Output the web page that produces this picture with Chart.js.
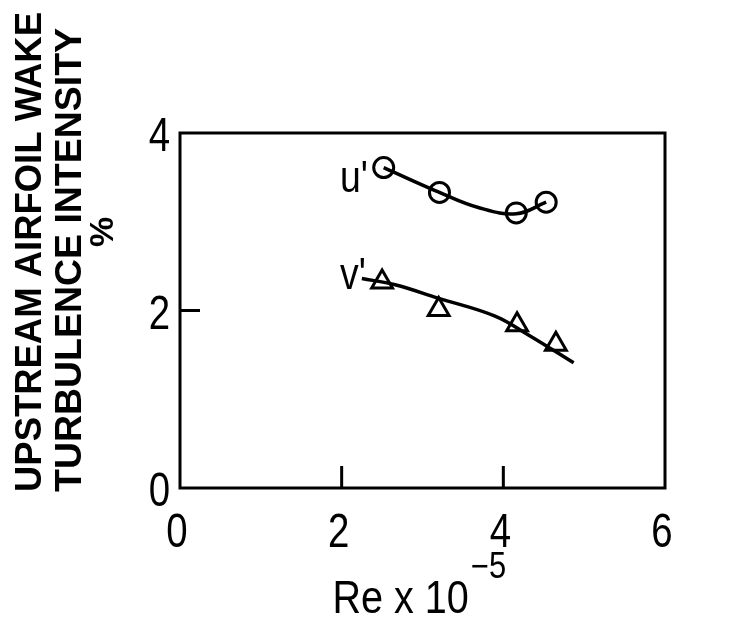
<!DOCTYPE html>
<html>
<head>
<meta charset="utf-8">
<script src="https://cdn.jsdelivr.net/npm/chart.js@4.4.1/dist/chart.umd.min.js"></script>
<style>
  html, body { margin: 0; padding: 0; background: #fff; }
  #wrap { width: 742px; height: 623px; }
</style>
</head>
<body>
<div id="wrap"><canvas id="chart" width="742" height="623"></canvas></div>
<script>
// measured points (Re x 10^-5 vs turbulence intensity %)
var uRe = [2.52, 3.21, 4.16, 4.53];
var uPct = [3.61, 3.33, 3.10, 3.22];
var vRe = [2.50, 3.20, 4.17, 4.65];
var vPct = [2.32, 2.01, 1.84, 1.62];

// faired curves through the points
var uFitRe = [2.52, 3.21, 3.69, 4.16, 4.53];
var uFitPct = [3.61, 3.33, 3.16, 3.09, 3.22];
var vFitRe = [2.25, 2.66, 3.19, 3.89, 4.30, 4.87];
var vFitPct = [2.36, 2.29, 2.14, 1.94, 1.73, 1.41];

var xTicks = [0, 2, 4, 6];
var yTicks = [0, 2, 4];
var yTitle = ['UPSTREAM AIRFOIL WAKE', 'TURBULENCE INTENSITY', '%'];
var xTitle = 'Re x 10';
var xTitleExp = '\u22125';
var seriesNames = ["u'", "v'"];

var numFont = "'Liberation Sans', Arial, sans-serif";

function pts(xs, ys) {
    return xs.map(function (x, i) { return {x: x, y: ys[i]}; });
}

// squeezed text, the scan uses a narrow face
function narrowText(ctx, txt, x, y, sx, align) {
    var w = ctx.measureText(txt).width * sx;
    var left = align === 'right' ? x - w : align === 'center' ? x - w / 2 : x;
    ctx.save();
    ctx.translate(left, y);
    ctx.scale(sx, 1);
    ctx.textAlign = 'left';
    ctx.fillText(txt, 0, 0);
    ctx.restore();
    return w;
}

// box, inward ticks, tick labels, curve labels and axis titles
var decor = {
    id: 'decor',
    afterDraw: function (chart) {
        var ctx = chart.ctx, a = chart.chartArea;
        var xs = chart.scales.x, ys = chart.scales.y;
        ctx.save();
        ctx.strokeStyle = '#000';
        ctx.fillStyle = '#000';
        ctx.lineWidth = 3;
        ctx.strokeRect(a.left, a.top, a.right - a.left, a.bottom - a.top);

        ctx.beginPath();
        xTicks.forEach(function (v) {
            if (v > xs.min && v < xs.max) {
                var px = xs.getPixelForValue(v);
                ctx.moveTo(px, a.bottom);
                ctx.lineTo(px, a.bottom - 22);
            }
        });
        yTicks.forEach(function (v) {
            if (v > ys.min && v < ys.max) {
                var py = ys.getPixelForValue(v);
                ctx.moveTo(a.left, py);
                ctx.lineTo(a.left + 20, py);
            }
        });
        ctx.stroke();

        ctx.textBaseline = 'alphabetic';
        ctx.font = '48px ' + numFont;
        xTicks.forEach(function (v) {
            narrowText(ctx, String(v), xs.getPixelForValue(v) - 3, a.bottom + 59, 0.8, 'center');
        });
        yTicks.forEach(function (v) {
            narrowText(ctx, String(v), a.left - 10, ys.getPixelForValue(v) + 18, 0.8, 'right');
        });

        // curve labels
        ctx.font = '44px ' + numFont;
        narrowText(ctx, seriesNames[0], xs.getPixelForValue(1.98), ys.getPixelForValue(3.33), 0.85, 'left');
        narrowText(ctx, seriesNames[1], xs.getPixelForValue(1.98), ys.getPixelForValue(2.24), 0.85, 'left');

        // x title with exponent
        ctx.font = '46px ' + numFont;
        var cx = (a.left + a.right) / 2;
        var w1 = narrowText(ctx, xTitle, cx - 90, 613, 0.86, 'left');
        ctx.font = '36px ' + numFont;
        narrowText(ctx, xTitleExp, cx - 90 + w1 + 2, 578, 0.86, 'left');

        // y title, rotated
        ctx.font = 'bold 37px ' + numFont;
        var lines = [[yTitle[0], 31, 480], [yTitle[1], 71, 464]];
        lines.forEach(function (l) {
            var w = ctx.measureText(l[0]).width;
            ctx.save();
            ctx.translate(l[1], 492);
            ctx.rotate(-Math.PI / 2);
            ctx.scale(l[2] / w, 1);
            ctx.textBaseline = 'middle';
            ctx.fillText(l[0], 0, 0);
            ctx.restore();
        });
        ctx.save();
        ctx.translate(104, 232);
        ctx.rotate(-Math.PI / 2);
        ctx.font = 'bold 34px ' + numFont;
        ctx.textAlign = 'center';
        ctx.textBaseline = 'middle';
        ctx.fillText(yTitle[2], 0, 0);
        ctx.restore();

        ctx.restore();
    }
};

new Chart(document.getElementById('chart'), {
    type: 'scatter',
    data: {
        datasets: [
            {
                data: pts(uFitRe, uFitPct), showLine: true, pointRadius: 0,
                borderColor: '#000', borderWidth: 3.5, tension: 0.4, fill: false
            },
            {
                data: pts(vFitRe, vFitPct), showLine: true, pointRadius: 0,
                borderColor: '#000', borderWidth: 3.5, tension: 0.4, fill: false
            },
            {
                data: pts(uRe, uPct), pointStyle: 'circle', pointRadius: 10,
                pointBorderWidth: 3, pointBorderColor: '#000', pointBackgroundColor: '#fff'
            },
            {
                data: pts(vRe, vPct), pointStyle: 'triangle', pointRadius: 12,
                pointBorderWidth: 3, pointBorderColor: '#000', pointBackgroundColor: '#fff'
            }
        ]
    },
    options: {
        responsive: false,
        animation: false,
        layout: { padding: { top: 133, right: 77, left: 0, bottom: 0 } },
        plugins: { legend: { display: false }, tooltip: { enabled: false } },
        scales: {
            x: {
                type: 'linear', min: 0, max: 6,
                afterBuildTicks: function (s) { s.ticks = xTicks.map(function (v) { return {value: v}; }); },
                afterFit: function (s) { s.height = 135; },
                grid: { display: false }, border: { display: false },
                ticks: { display: false }
            },
            y: {
                type: 'linear', min: 0, max: 4,
                afterBuildTicks: function (s) { s.ticks = yTicks.map(function (v) { return {value: v}; }); },
                afterFit: function (s) { s.width = 180; },
                grid: { display: false }, border: { display: false },
                ticks: { display: false }
            }
        }
    },
    plugins: [decor]
});
</script>
</body>
</html>
